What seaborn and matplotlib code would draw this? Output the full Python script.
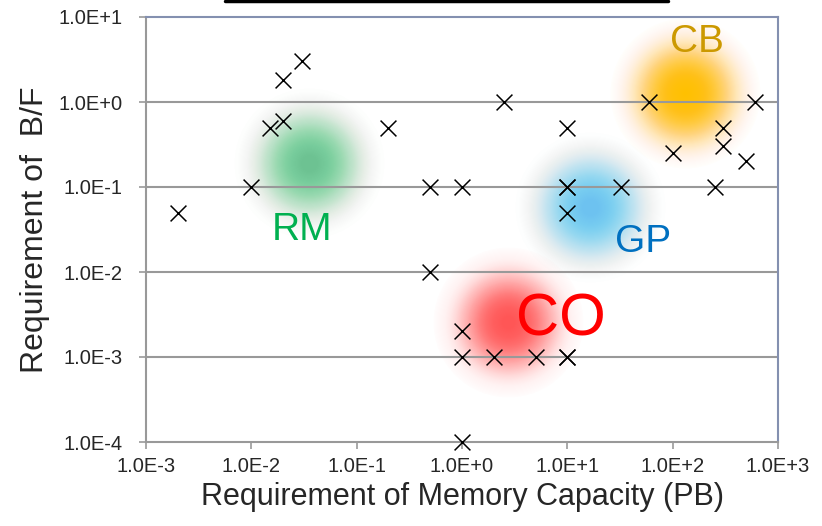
import numpy as np
import matplotlib
matplotlib.use("Agg")
import matplotlib.pyplot as plt
import seaborn as sns
from matplotlib.lines import Line2D
from matplotlib.ticker import FixedLocator, FuncFormatter, NullLocator

# data
mem_pb = [0.002, 0.01, 0.015, 0.02, 0.02, 0.03, 0.2, 0.5, 0.5, 1, 1, 1, 1,
          2, 5, 10, 10, 2.5, 10, 10, 10, 10, 32, 60, 100, 300, 300, 500, 250, 600]
bf_req = [0.05, 0.1, 0.5, 0.6, 1.8, 3.0, 0.5, 0.1, 0.01, 0.1, 0.002, 0.001, 1e-4,
          0.001, 0.001, 0.001, 0.001, 1.0, 0.5, 0.1, 0.1, 0.05, 0.1, 1.0, 0.25,
          0.5, 0.3, 0.2, 0.1, 1.0]

groups = ["CB", "GP", "RM", "CO"]
group_mem = [131, 16.5, 0.0354, 2.76]
group_bf = [1.26, 0.0586, 0.19, 0.0026]
group_colors = ["#FFC000", "#00B0F0", "#00B050", "#FF0000"]
group_peak = [0.95, 0.5, 0.5, 0.58]
label_mem = [171, 52.5, 0.0303, 8.7]
label_bf = [5.08, 0.0225, 0.0312, 0.00272]
label_colors = ["#CC9900", "#0070C0", "#00B050", "#FF0000"]
label_sizes = [28, 28, 28, 43]

x_ticks = [1e-3, 1e-2, 1e-1, 1e0, 1e1, 1e2, 1e3]
y_ticks = [1e-4, 1e-3, 1e-2, 1e-1, 1e0, 1e1]

sns.set_style("white")
plt.rcParams["font.family"] = ["Liberation Sans", "DejaVu Sans"]

fig = plt.figure(figsize=(8.22, 5.26), dpi=100)
ax = fig.add_axes([146 / 822, 1 - 442 / 526, 632 / 822, 425 / 526])
ax.set_xscale("log")
ax.set_yscale("log")
ax.set_xlim(1e-3, 1e3)
ax.set_ylim(1e-4, 1e1)

# soft glowing blobs: stacked translucent circles, flat core with soft edge
n_layers = 70
r_max = 54.0   # points
sigma = 27.0   # points
radii = np.linspace(r_max, r_max / n_layers, n_layers)
for gx, gy, gc, peak in zip(group_mem, group_bf, group_colors, group_peak):
    target = peak * np.exp(-0.5 * (radii / sigma) ** 3)
    prev = 0.0
    for r, o in zip(radii, target):
        a = 1 - (1 - o) / (1 - prev)
        prev = o
        if a <= 0:
            continue
        ax.scatter([gx], [gy], s=(2 * r) ** 2, color=gc, alpha=min(a, 1.0),
                   linewidths=0, zorder=1)

for gx, gy, txt, tc, fs in zip(label_mem, label_bf, groups, label_colors, label_sizes):
    ax.text(gx, gy, txt, color=tc, fontsize=fs, ha="center", va="center", zorder=3)

grey = "#999999"
for yv in y_ticks[1:-1]:
    ax.axhline(yv, color=grey, lw=1.5, zorder=2)

sns.scatterplot(x=mem_pb, y=bf_req, marker="x", color="black", s=130,
                linewidth=1.1, ax=ax, zorder=4, clip_on=False)

ax.xaxis.set_major_locator(FixedLocator(x_ticks))
ax.yaxis.set_major_locator(FixedLocator(y_ticks))
ax.xaxis.set_minor_locator(NullLocator())
ax.yaxis.set_minor_locator(NullLocator())
fmt = FuncFormatter(lambda v, p: f"1.0E{int(round(np.log10(v))):+d}")
ax.xaxis.set_major_formatter(fmt)
ax.yaxis.set_major_formatter(fmt)
ax.tick_params(axis="both", direction="out", length=5, width=1.2, color=grey,
               labelsize=14.5, bottom=True, left=True)
ax.tick_params(axis="y", pad=12)
ax.tick_params(axis="x", pad=6)

for side in ["left", "bottom"]:
    ax.spines[side].set_color(grey)
    ax.spines[side].set_linewidth(1.5)
for side in ["top", "right"]:
    ax.spines[side].set_color("#8490B0")
    ax.spines[side].set_linewidth(1.5)

ax.set_xlabel("Requirement of Memory Capacity (PB)", fontsize=22, labelpad=4)
ax.set_ylabel("Requirement of  B/F", fontsize=23, labelpad=6)

# underline of the cut-off title at the top edge
fig.add_artist(Line2D([225 / 822, 668 / 822], [1 - 1 / 526, 1 - 1 / 526],
                      color="black", lw=2.5, transform=fig.transFigure))

fig.savefig("out.png", dpi=100)
